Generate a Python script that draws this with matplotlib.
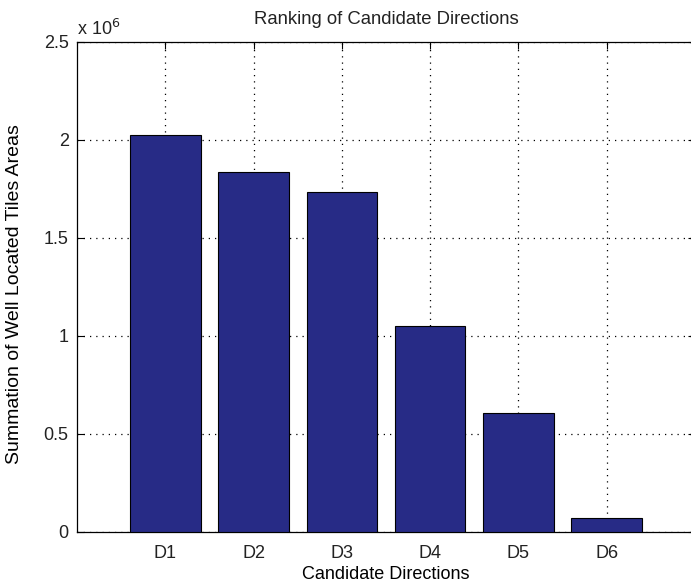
import matplotlib
matplotlib.use("Agg")
import matplotlib.pyplot as plt
import numpy as np

categories = ["D1", "D2", "D3", "D4", "D5", "D6"]
values = [2.025e6, 1.835e6, 1.735e6, 1.053e6, 0.605e6, 0.072e6]

plt.rcParams["font.family"] = ["Liberation Sans", "DejaVu Sans"]
plt.rcParams["text.color"] = "#222222"
plt.rcParams["xtick.labelcolor"] = "#222222"
plt.rcParams["ytick.labelcolor"] = "#222222"

fig = plt.figure(figsize=(6.91, 5.88), dpi=100)
ax = fig.add_axes([77 / 691, 56 / 588, 618 / 691, 490 / 588])

x = np.arange(1, len(categories) + 1)
scale = 1e6
ax.bar(x, np.array(values) / scale, width=0.8, color="#272b86",
       edgecolor="black", linewidth=0.8, zorder=3)

ax.set_xlim(0, 7)
ax.set_ylim(0, 2.5)
ax.set_xticks(x)
ax.set_xticklabels(categories)
ax.set_yticks([0, 0.5, 1, 1.5, 2, 2.5])
ax.set_yticklabels(["0", "0.5", "1", "1.5", "2", "2.5"])

ax.grid(True, linestyle=(0, (1, 4)), color="black", linewidth=0.9, zorder=1)
ax.tick_params(direction="in", length=5, top=True, right=True, labelsize=13)
ax.tick_params(axis="x", pad=9)
ax.tick_params(axis="y", pad=6)
for s in ax.spines.values():
    s.set_linewidth(0.9)

ax.set_title("Ranking of Candidate Directions", fontsize=13.3, pad=13)
ax.set_xlabel("Candidate Directions", fontsize=13, labelpad=3)
ax.set_ylabel("Summation of Well Located Tiles Areas", fontsize=14)
ax.yaxis.set_label_coords(-54 / 618, 0.485)
ax.text(0.0, 1.006, r"x 10$^{6}$", transform=ax.transAxes, fontsize=13,
        ha="left", va="bottom")

fig.savefig("out.png", dpi=100)
